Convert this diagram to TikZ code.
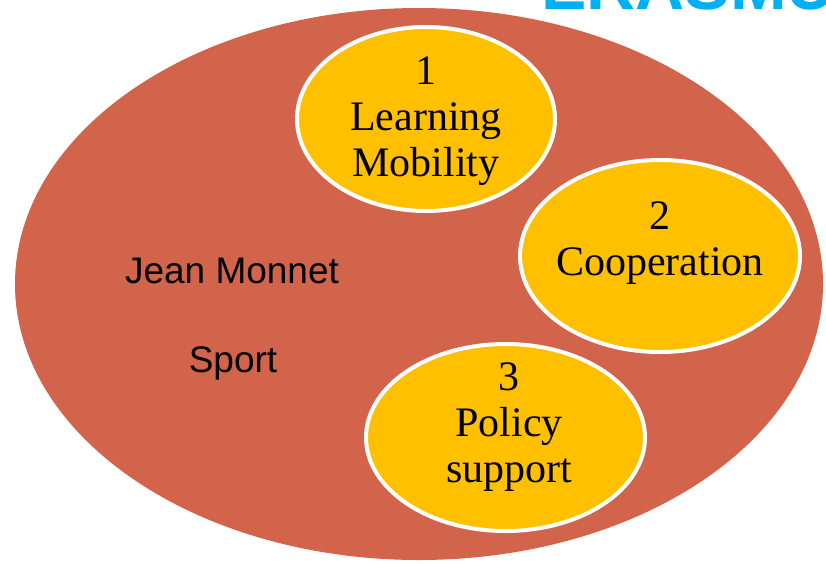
\documentclass[tikz,border=0pt]{standalone}
\usepackage{fontspec}
\setmainfont{Liberation Serif}
\setsansfont{Liberation Sans}
\usetikzlibrary{shapes,positioning}
\definecolor{brick}{RGB}{210,100,75}
\definecolor{amber}{RGB}{255,192,0}
\definecolor{erasmusblue}{RGB}{0,176,240}
\tikzset{
    programme/.style={ellipse, fill=brick, inner sep=0pt, minimum width=808pt, minimum height=552pt},
    action/.style={ellipse, fill=amber, draw=white, line width=4pt, inner sep=0pt},
    action text/.style={align=center, inner sep=0pt, font=\fontsize{42}{46}\selectfont},
    side text/.style={anchor=base, inner sep=0pt, font=\sffamily\fontsize{37}{44}\selectfont},
    logo/.style={anchor=base west, inner sep=0pt, text=erasmusblue, font=\sffamily\bfseries\fontsize{68}{68}\selectfont}
}

\begin{document}
\begin{tikzpicture}[x=1pt,y=-1pt]
    \useasboundingbox (0,0) rectangle (826,563);
    \clip (0,0) rectangle (826,563);
    \node[logo] (erasmus) at (541,9) {ERASMUS+};
    \node[programme] (programme) at (419,284) {};
    \node[action, minimum width=258pt, minimum height=184pt] (mobility) at (426,119) {};
    \node[action, minimum width=280pt, minimum height=192pt] (cooperation) at (660,256) {};
    \node[action, minimum width=279pt, minimum height=187pt] (policy) at (505.5,437.5) {};
    \node[action text] (mobility text) at (426,121) {1\\Learning\\Mobility};
    \node[action text] (cooperation text) at (660,243.5) {2\\Cooperation};
    \node[action text] (policy text) at (509,427) {3\\Policy\\support};
    \node[side text] (jean monnet) at (232,283) {Jean Monnet};
    \node[side text] (sport) at (233,372) {Sport};
\end{tikzpicture}
\end{document}
